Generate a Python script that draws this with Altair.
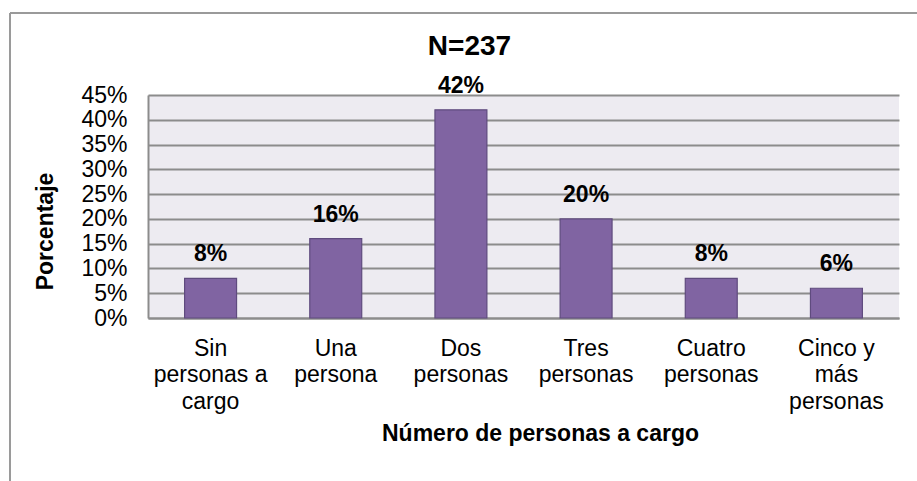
import altair as alt
import pandas as pd

categories = ["Sin\npersonas a\ncargo", "Una\npersona", "Dos\npersonas", "Tres\npersonas", "Cuatro\npersonas", "Cinco y\nmás\npersonas"]
values = [8, 16, 42, 20, 8, 6]
labels = ["8%", "16%", "42%", "20%", "8%", "6%"]
chart_title = "N=237"

df = pd.DataFrame({"cat": categories, "val": values, "lab": labels})

FONT = "Liberation Sans"
W, H = 751, 223
PL, PT = 148, 95

x = alt.X("cat:N", sort=categories,
          scale=alt.Scale(paddingInner=0.585, paddingOuter=0.2925),
          axis=alt.Axis(title="Número de personas a cargo", labelAngle=0,
                        labelExpr="split(datum.label, '\\n')",
                        labelFont=FONT, labelFontSize=23, labelColor="#000000",
                        labelLineHeight=26.5, labelPadding=37, labelBaseline="alphabetic",
                        titleFont=FONT, titleFontSize=23, titleFontWeight="bold",
                        titleColor="#000000", titleX=540 - PL, titleY=433 - 318,
                        titleBaseline="middle", titleAlign="center",
                        ticks=False, domainColor="#8c8c8c", domainWidth=2, grid=False))

y = alt.Y("val:Q", scale=alt.Scale(domain=[0, 45], nice=False),
          axis=alt.Axis(title="Porcentaje", values=list(range(0, 50, 5)),
                        labelExpr="datum.value + '%'",
                        labelFont=FONT, labelFontSize=23, labelColor="#000000",
                        labelPadding=21, ticks=False,
                        titleFont=FONT, titleFontSize=23, titleFontWeight="bold",
                        titleColor="#000000", titleX=-103, titleY=231 - PT,
                        titleAngle=270, titleBaseline="middle", titleAlign="center",
                        domainColor="#8c8c8c", domainWidth=2,
                        grid=True, gridColor="#8c8c8c", gridWidth=1.8))

bars = alt.Chart(df).mark_bar(color="#8064A2", stroke="#5F4B7E", strokeWidth=1.2).encode(x=x, y=y)
text = alt.Chart(df).mark_text(font=FONT, fontSize=23, fontWeight="bold", baseline="alphabetic",
                               dy=-17, color="#000000").encode(x=x, y=y, text="lab:N")

title_df = pd.DataFrame({"t": [chart_title]})
title = alt.Chart(title_df).mark_text(font=FONT, fontSize=28, fontWeight="bold",
                                      baseline="middle", align="center", color="#000000").encode(
    x=alt.value(469.5 - PL), y=alt.value(47 - PT), text="t:N")

frame_left = alt.Chart(title_df).mark_rule(color="#9a9a9a", strokeWidth=2).encode(
    x=alt.value(10 - PL), y=alt.value(13 - PT), y2=alt.value(481 - PT + 10))
frame_top = alt.Chart(title_df).mark_rule(color="#9a9a9a", strokeWidth=2).encode(
    x=alt.value(10 - PL), x2=alt.value(917 - PL + 10), y=alt.value(13 - PT))

chart = alt.layer(bars, text, title, frame_left, frame_top).properties(
    width=W, height=H,
    padding={"left": PL, "top": PT, "right": 917 - PL - W, "bottom": 481 - PT - H},
    autosize=alt.AutoSizeParams(type="none"),
    background="#ffffff",
).configure_view(stroke=None, fill="#EDEBF1")

chart.save("out.html", embed_options={"renderer": "svg", "actions": False})
